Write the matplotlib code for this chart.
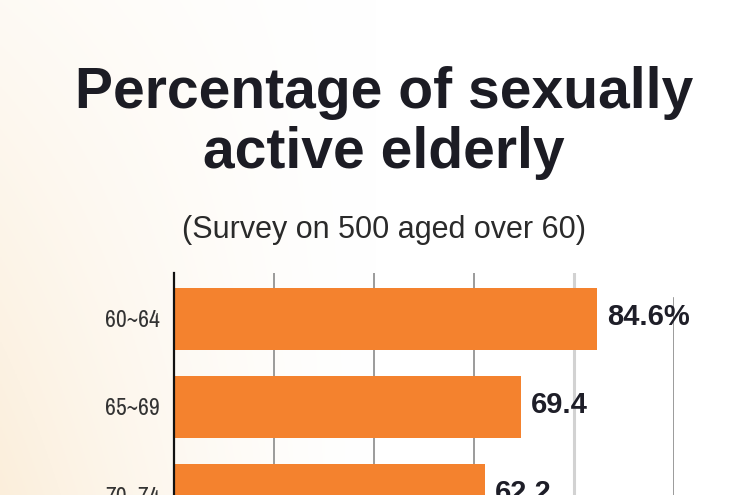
import numpy as np
import matplotlib
matplotlib.use('Agg')
import matplotlib.pyplot as plt
from matplotlib import font_manager as fm

# data
groups = ['60~64', '65~69', '70~74']
values = [84.6, 69.4, 62.2]
value_labels = ['84.6%', '69.4', '62.2']
grid_at = [20, 40, 60, 80, 100]

names = set(f.name for f in fm.fontManager.ttflist)
narrow = 'Archivo Narrow' if 'Archivo Narrow' in names else 'Liberation Sans'
plt.rcParams['font.family'] = ['Liberation Sans', 'DejaVu Sans']

fig = plt.figure(figsize=(7.5, 4.95), dpi=100)

# cream wash on the left, fading to white
bg = fig.add_axes([0, 0, 1, 1], zorder=-1)
gx, gy = np.meshgrid(np.linspace(0, 1, 300), np.linspace(0, 1, 200))
w = np.clip(1 - gx / 0.5, 0, 1) ** 1.4 * (0.3 + 0.7 * gy)
cream = np.array([0.985, 0.935, 0.86])
img = 1 - w[..., None] * (1 - cream)
bg.imshow(img, aspect='auto', extent=[0, 1, 0, 1], origin='upper')
bg.axis('off')

fig.text(0.512, 0.782, 'Percentage of sexually', ha='center', va='baseline',
         fontsize=41, fontweight='bold', color='#1c1c24')
fig.text(0.512, 0.661, 'active elderly', ha='center', va='baseline',
         fontsize=41, fontweight='bold', color='#1c1c24')
fig.text(0.512, 0.519, '(Survey on 500 aged over 60)', ha='center', va='baseline',
         fontsize=22, color='#2a2a2a')

ax = fig.add_axes([0.232, 0.0, 0.6667, 0.4485])
ax.set_facecolor('none')
ypos = np.arange(len(groups))
ax.barh(ypos, values, height=0.70, color='#f4822e', zorder=3)

for g in grid_at:
    if g == 80:
        ax.axvline(g, color='#d2d2d2', lw=2.2, zorder=1)
    elif g == 100:
        ax.axvline(g, ymin=0, ymax=0.887, color='#8a8a8a', lw=1.2, zorder=1)
    else:
        ax.axvline(g, color='#8a8a8a', lw=1.2, zorder=1)

for y, v, t in zip(ypos, values, value_labels):
    ax.text(v + 2.0, y - 0.02, t, va='center', ha='left', fontsize=21,
            fontweight='bold', color='#1e1e28')

ax.set_xlim(0, 100)
ax.set_ylim(1.840, -0.521)
ax.set_yticks(ypos)
ax.set_yticklabels(groups, family=[narrow, 'DejaVu Sans'], fontsize=17, color='#333333')
ax.set_xticks([])
ax.tick_params(axis='y', length=0, pad=10)
for s in ['top', 'right', 'bottom']:
    ax.spines[s].set_visible(False)
ax.spines['left'].set_color('#111111')
ax.spines['left'].set_linewidth(1.6)
ax.spines['left'].set_zorder(4)

fig.savefig('out.png', dpi=100)
